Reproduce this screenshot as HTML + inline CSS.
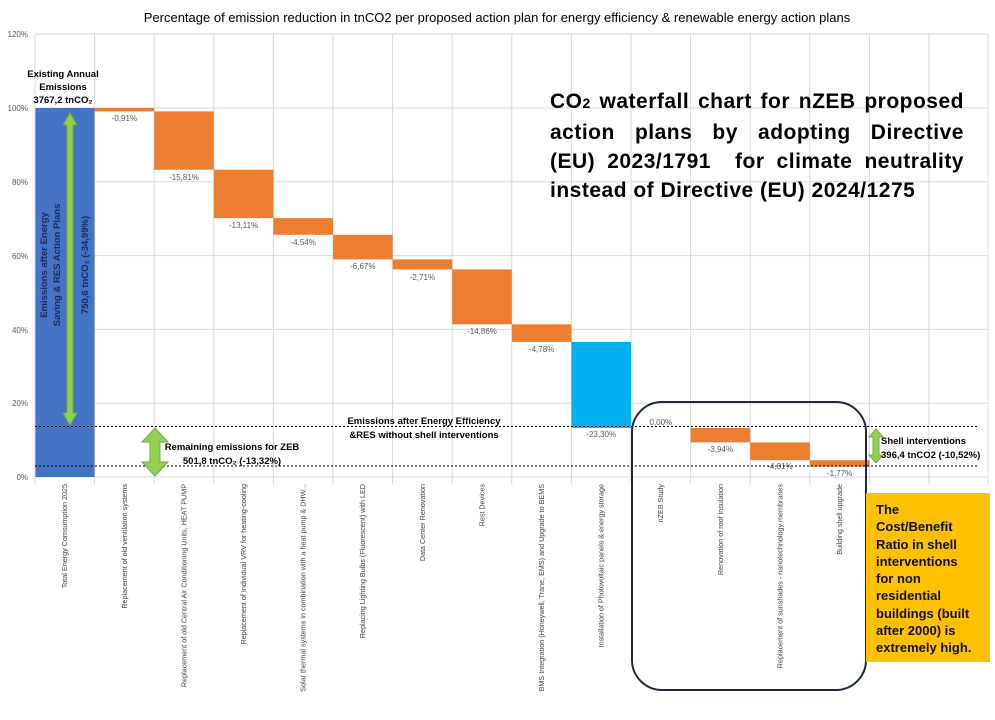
<!DOCTYPE html>
<html><head><meta charset="utf-8"><style>
body{margin:0;background:#fff;width:995px;height:720px;overflow:hidden;position:relative;font-family:"Liberation Sans",sans-serif}
.big{position:absolute;left:550px;top:87px;width:414px;font-weight:bold;font-size:21px;line-height:29px;color:#000;letter-spacing:0.5px}
.big div{text-align:justify;text-align-last:justify;white-space:nowrap}
.big div.l{text-align-last:left}
.yb{position:absolute;left:866px;top:493px;width:124px;height:169px;background:#FFC000;box-sizing:border-box;padding:8px 4px 0 10px;font-weight:bold;font-size:13px;line-height:17.3px;color:#111}
</style></head><body>
<svg width="995" height="720" style="position:absolute;left:0;top:0" font-family="Liberation Sans, sans-serif">
<text x="497" y="22" font-size="13" text-anchor="middle" fill="#000">Percentage of emission reduction in tnCO2 per proposed action plan for energy efficiency  &amp; renewable energy action plans</text>
<g stroke="#d9d9d9" stroke-width="1">
<line x1="35" y1="34" x2="988" y2="34"/><line x1="35" y1="108" x2="988" y2="108"/><line x1="35" y1="181.8" x2="988" y2="181.8"/><line x1="35" y1="255.6" x2="988" y2="255.6"/><line x1="35" y1="329.4" x2="988" y2="329.4"/><line x1="35" y1="403.2" x2="988" y2="403.2"/><line x1="35" y1="477" x2="988" y2="477"/>
<line x1="35" y1="34" x2="35" y2="484"/><line x1="94.6" y1="34" x2="94.6" y2="484"/><line x1="154.2" y1="34" x2="154.2" y2="484"/><line x1="213.8" y1="34" x2="213.8" y2="484"/><line x1="273.4" y1="34" x2="273.4" y2="484"/><line x1="333" y1="34" x2="333" y2="484"/><line x1="392.6" y1="34" x2="392.6" y2="484"/><line x1="452.2" y1="34" x2="452.2" y2="484"/><line x1="511.8" y1="34" x2="511.8" y2="484"/><line x1="571.4" y1="34" x2="571.4" y2="484"/><line x1="631" y1="34" x2="631" y2="484"/><line x1="690.6" y1="34" x2="690.6" y2="484"/><line x1="750.2" y1="34" x2="750.2" y2="484"/><line x1="809.8" y1="34" x2="809.8" y2="484"/><line x1="869.4" y1="34" x2="869.4" y2="484"/><line x1="929" y1="34" x2="929" y2="484"/><line x1="988" y1="34" x2="988" y2="484"/>
</g>
<g font-size="8" fill="#595959" text-anchor="end">
<text x="28" y="37">120%</text><text x="28" y="111">100%</text><text x="28" y="185">80%</text><text x="28" y="259">60%</text><text x="28" y="333">40%</text><text x="28" y="406">20%</text><text x="28" y="480">0%</text>
</g>
<rect x="35.5" y="108" width="59" height="369" fill="#4472C4"/>
<g fill="#ED7D31">
<rect x="94.6" y="108" width="59.6" height="3.4"/>
<rect x="154.2" y="111.4" width="59.6" height="58.3"/>
<rect x="213.8" y="169.7" width="59.6" height="48.4"/>
<rect x="273.4" y="218.1" width="59.6" height="16.7"/>
<rect x="333" y="234.8" width="59.6" height="24.6"/>
<rect x="392.6" y="259.4" width="59.6" height="10"/>
<rect x="452.2" y="269.4" width="59.6" height="54.9"/>
<rect x="511.8" y="324.3" width="59.6" height="17.6"/>
<rect x="690.6" y="427.9" width="59.6" height="14.5"/>
<rect x="750.2" y="442.4" width="59.6" height="17.8"/>
<rect x="809.8" y="460.2" width="59.6" height="6.5"/>
</g>
<rect x="571.4" y="341.9" width="59.6" height="86" fill="#00B0F0"/>
<g font-size="8" fill="#595959" text-anchor="middle">
<text x="124.4" y="121">-0,91%</text><text x="184" y="180">-15,81%</text><text x="243.6" y="228">-13,11%</text><text x="303.2" y="245">-4,54%</text><text x="362.8" y="269">-6,67%</text><text x="422.4" y="280">-2,71%</text><text x="482" y="334">-14,86%</text><text x="541.6" y="352">-4,78%</text><text x="601.2" y="437">-23,30%</text><text x="660.8" y="425">0,00%</text><text x="720.4" y="452">-3,94%</text><text x="780" y="469">-4,81%</text><text x="839.6" y="476">-1,77%</text>
</g>
<g stroke="#000" stroke-width="1" stroke-dasharray="2,2">
<line x1="35" y1="426.5" x2="978" y2="426.5"/><line x1="35" y1="466" x2="978" y2="466"/>
</g>
<g fill="#92D050" stroke="#70AD47" stroke-width="1">
<polygon points="70,113 77,125 73,125 73,413 77,413 70,425 63,413 67,413 67,125 63,125"/>
<polygon points="155,428 168,442 160,442 160,462 168,462 155,476 142,462 150,462 150,442 142,442"/>
<polygon points="876,429 883,437 879,437 879,455 883,455 876,463 869,455 873,455 873,437 869,437"/>
</g>
<rect x="632" y="402" width="234" height="288" rx="30" fill="none" stroke="#1c2b38" stroke-width="2"/>
<g font-weight="bold" fill="#000" font-size="9.5" text-anchor="middle">
<text x="63" y="77">Existing Annual</text><text x="63" y="90">Emissions</text><text x="63" y="103">3767,2 tnCO₂</text>
<text x="424" y="424">Emissions after Energy Efficiency</text><text x="424" y="438">&amp;RES without shell interventions</text>
<text x="232" y="450">Remaining emissions for ZEB</text><text x="232" y="464">501,8 tnCO₂  (-13,32%)</text>
</g>
<g font-weight="bold" fill="#000" font-size="9.5">
<text x="881" y="444">Shell interventions</text><text x="881" y="458">396,4 tnCO2  (-10,52%)</text>
</g>
<g font-weight="bold" fill="#1a2a5a" font-size="9.5" text-anchor="middle">
<text transform="translate(47,265) rotate(-90)">Emissions after Energy</text>
<text transform="translate(60,265) rotate(-90)">Saving &amp; RES Action Plans</text>
<text transform="translate(88,265) rotate(-90)">750,6 tnCO₂  (-34,99%)</text>
</g>
<g font-size="7.2" fill="#404040" text-anchor="end">
<text transform="translate(67,484) rotate(-90)">Total Energy Comsumption 2025</text>
<text transform="translate(127,484) rotate(-90)">Replacement of old ventilation systems</text>
<text transform="translate(186.5,484) rotate(-90)">Replacement of old Central Air Conditioning Units, HEAT PUMP</text>
<text transform="translate(246,484) rotate(-90)">Replacement of Individual VRV for heating-cooling</text>
<text transform="translate(305.5,484) rotate(-90)">Solar thermal systems in combination with a heat pump &amp; DHW...</text>
<text transform="translate(365,484) rotate(-90)">Replacing Lighting Bulbs (Fluorescent) with LED</text>
<text transform="translate(425,484) rotate(-90)">Data Center Renovation</text>
<text transform="translate(484.5,484) rotate(-90)">Rest  Devices</text>
<text transform="translate(544,484) rotate(-90)">BMS Integration (Honeywell, Trane, EMS) and Upgrade to BEMS</text>
<text transform="translate(603.5,484) rotate(-90)">Installation of Photovoltaic panels &amp; energy storage</text>
<text transform="translate(663,484) rotate(-90)">nZEB  Study</text>
<text transform="translate(723,484) rotate(-90)">Renovation of roof  insulation</text>
<text transform="translate(782.5,484) rotate(-90)">Replacement of sunshades - nanotechnology membranes</text>
<text transform="translate(842,484) rotate(-90)">Building shell upgrade</text>
</g>
</svg>
<div class="big"><div>CO<span style="font-size:14px">2</span> waterfall chart for nZEB proposed</div><div>action plans by adopting Directive</div><div>(EU) 2023/1791 &nbsp;for climate neutrality</div><div class="l">instead of Directive (EU) 2024/1275</div></div>
<div class="yb">The<br>Cost/Benefit<br>Ratio in shell<br>interventions<br>for non<br>residential<br>buildings (built<br>after 2000) is<br>extremely high.</div>
</body></html>
